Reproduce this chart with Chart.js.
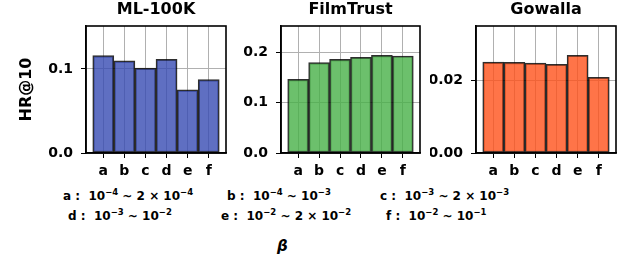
<!DOCTYPE html>
<html>
<head>
<meta charset="utf-8">
<script src="https://cdn.jsdelivr.net/npm/chart.js@4/dist/chart.umd.min.js"></script>
<style>
  body { margin: 0; background: #fff; width: 644px; height: 260px; overflow: hidden; position: relative; }
  canvas { position: absolute; top: 0; }
  .lbl { position: absolute; font-family: "DejaVu Sans"; font-weight: bold; font-size: 12px; white-space: nowrap; line-height: 14px; }
  .lbl sup { font-size: 8.5px; vertical-align: 5px; line-height: 0; }
  #beta { position: absolute; left: 277px; top: 237px; font-family: "DejaVu Sans"; font-weight: bold; font-style: italic; font-size: 15px; }
</style>
</head>
<body>
<canvas id="c1" width="312" height="182" style="left:0px"></canvas>
<canvas id="c2" width="241" height="182" style="left:230px"></canvas>
<canvas id="c3" width="232" height="182" style="left:430px"></canvas>

<div class="lbl" style="left:63px;top:189px">a :&nbsp; 10<sup>−4</sup> ~ 2 × 10<sup>−4</sup></div>
<div class="lbl" style="left:227px;top:189px">b :&nbsp; 10<sup>−4</sup> ~ 10<sup>−3</sup></div>
<div class="lbl" style="left:380px;top:189px">c :&nbsp; 10<sup>−3</sup> ~ 2 × 10<sup>−3</sup></div>
<div class="lbl" style="left:68px;top:209px">d :&nbsp; 10<sup>−3</sup> ~ 10<sup>−2</sup></div>
<div class="lbl" style="left:221px;top:209px">e :&nbsp; 10<sup>−2</sup> ~ 2 × 10<sup>−2</sup></div>
<div class="lbl" style="left:386px;top:209px">f :&nbsp; 10<sup>−2</sup> ~ 10<sup>−1</sup></div>
<div id="beta">β</div>

<script>
const categories = ["a", "b", "c", "d", "e", "f"];

const ml100k = [0.1158, 0.1095, 0.1010, 0.1115, 0.0750, 0.0873];
const filmtrust = [0.146, 0.179, 0.1857, 0.1897, 0.1936, 0.1922];
const gowalla = [0.0252, 0.0251, 0.0249, 0.0246, 0.0271, 0.0210];

const ml100kTicks = [0, 0.1];
const filmtrustTicks = [0, 0.1, 0.2];
const gowallaTicks = [0, 0.02];

const FONT = "DejaVu Sans";

// matplotlib style closed box around the plot area
const boxPlugin = {
    id: "box",
    afterDraw(chart) {
        const a = chart.chartArea;
        const ctx = chart.ctx;
        ctx.save();
        ctx.strokeStyle = "#000";
        ctx.lineWidth = 1.6;
        ctx.strokeRect(a.left, a.top, a.right - a.left, a.bottom - a.top);
        ctx.restore();
    }
};

// an empty right axis as wide as the left one keeps the title centred over the plot
function crearPanel(id, titulo, valores, yTicks, yMax, decimales, color, yWidth, yTitle) {
    new Chart(id, {
        type: "bar",
        data: {
            datasets: [{
                data: valores.map((v, i) => ({ x: i, y: v })),
                backgroundColor: color,
                borderColor: "rgba(0,0,0,0.82)",
                borderWidth: 1.5,
                borderSkipped: false,
                barPercentage: 1,
                categoryPercentage: 1
            }]
        },
        options: {
            responsive: false,
            animation: false,
            layout: { padding: 0 },
            plugins: {
                legend: { display: false },
                tooltip: { enabled: false },
                title: {
                    display: true,
                    text: titulo,
                    color: "#000",
                    font: { family: FONT, size: 16, weight: "bold" },
                    padding: { top: 0, bottom: 6.8 }
                }
            },
            scales: {
                x: {
                    type: "linear",
                    offset: false,
                    min: -0.82,
                    max: 5.82,
                    afterBuildTicks: s => { s.ticks = categories.map((c, i) => ({ value: i })); },
                    afterFit: s => { s.height = 29; },
                    ticks: {
                        callback: v => categories[v],
                        color: "#000",
                        font: { family: FONT, size: 14, weight: "bold" },
                        padding: 5,
                        maxRotation: 0,
                        autoSkip: false
                    },
                    grid: { offset: false, color: "#b0b0b0", lineWidth: 1, tickColor: "#000", tickLength: 5, tickWidth: 1 },
                    border: { display: true, color: "#000", width: 1.6 }
                },
                y: {
                    min: 0,
                    max: yMax,
                    afterBuildTicks: s => { s.ticks = yTicks.map(v => ({ value: v })); },
                    afterFit: s => { s.width = yWidth; },
                    ticks: {
                        callback: v => v.toFixed(decimales),
                        color: "#000",
                        font: { family: FONT, size: 14, weight: "bold" },
                        padding: 8
                    },
                    grid: { color: "#b0b0b0", lineWidth: 1, tickColor: "#000", tickLength: 5, tickWidth: 1 },
                    border: { display: true, color: "#000", width: 1.6 },
                    title: {
                        display: !!yTitle,
                        text: yTitle || "",
                        color: "#000",
                        font: { family: FONT, size: 16, weight: "bold" },
                        padding: { top: 17, bottom: 0 }
                    }
                },
                yR: {
                    position: "right",
                    min: 0,
                    max: 1,
                    afterFit: s => { s.width = yWidth; },
                    ticks: { display: false },
                    grid: { display: false, drawTicks: false },
                    border: { display: false }
                }
            }
        },
        plugins: [boxPlugin]
    });
}

crearPanel("c1", "ML-100K", ml100k, ml100kTicks, 0.151, 1, "rgba(55,75,179,0.8)", 86, "HR@10");
crearPanel("c2", "FilmTrust", filmtrust, filmtrustTicks, 0.2517, 1, "rgba(71,176,71,0.8)", 51, null);
crearPanel("c3", "Gowalla", gowalla, gowallaTicks, 0.0352, 2, "rgba(255,81,26,0.8)", 46, null);
</script>
</body>
</html>
